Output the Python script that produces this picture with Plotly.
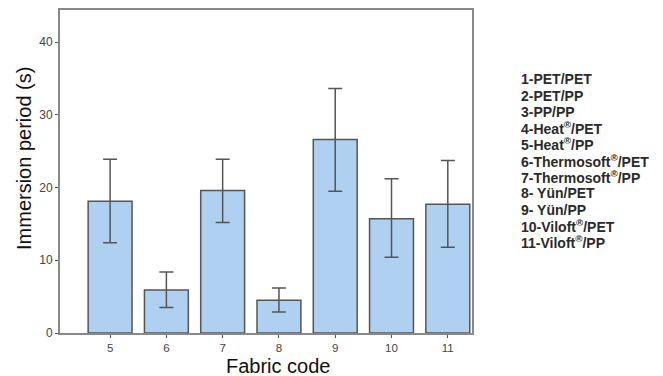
import plotly.graph_objects as go

codes = [5, 6, 7, 8, 9, 10, 11]
means = [18.1, 5.9, 19.6, 4.5, 26.6, 15.7, 17.7]
err_hi = [23.9, 8.4, 23.9, 6.2, 33.6, 21.2, 23.7]
err_lo = [12.4, 3.5, 15.2, 2.9, 19.5, 10.4, 11.8]
legend_lines = ["1-PET/PET", "2-PET/PP", "3-PP/PP", "4-Heat<sup>®</sup>/PET", "5-Heat<sup>®</sup>/PP",
                "6-Thermosoft<sup>®</sup>/PET", "7-Thermosoft<sup>®</sup>/PP", "8- Yün/PET", "9- Yün/PP",
                "10-Viloft<sup>®</sup>/PET", "11-Viloft<sup>®</sup>/PP"]

up = [h - m for h, m in zip(err_hi, means)]
down = [m - l for m, l in zip(means, err_lo)]

# plot area in viewport pixels (page has an 8px body margin)
PX0, PX1, PY0, PY1 = 60, 472, 10, 333
W, H = 663 - 8, 376 - 8

def px(x):
    return (x - PX0) / (PX1 - PX0)

def py(y):
    return 1 - (y - PY0) / (PY1 - PY0)

fig = go.Figure(go.Bar(
    x=codes, y=means, width=0.78,
    marker=dict(color="#AFD0F0", line=dict(color="#555555", width=1.5)),
    error_y=dict(type="data", symmetric=False, array=up, arrayminus=down,
                 color="#555555", thickness=1.5, width=7),
))

for i, t in enumerate(legend_lines):
    fig.add_annotation(xref="paper", yref="paper", x=px(519), y=py(79.3 + i * 16.3),
                       xanchor="left", yanchor="middle", text="<b>" + t + "</b>", showarrow=False,
                       font=dict(family="Liberation Sans, Arial", size=14, color="#2a2a2a"))

fig.add_annotation(xref="paper", yref="paper", x=px(278.7), y=py(366), xanchor="center", yanchor="middle",
                   text="Fabric code", showarrow=False, height=20, valign="middle",
                   font=dict(family="Liberation Sans, Arial", size=20, color="#111111"))
fig.add_annotation(xref="paper", yref="paper", x=px(24), y=py(159), xanchor="center", yanchor="middle",
                   text="Immersion period (s)", showarrow=False, textangle=-90,
                   font=dict(family="Liberation Sans, Arial", size=20, color="#111111"))

fig.update_layout(
    width=W, height=H,
    margin=dict(l=PX0 - 8, r=W - (PX1 - 8), t=PY0 - 8, b=H - (PY1 - 8)),
    paper_bgcolor="white", plot_bgcolor="white",
    showlegend=False,
    font=dict(family="Liberation Sans, Arial", color="#333333"),
    xaxis=dict(range=[4.11, 11.43], tickvals=codes, ticktext=[str(c) for c in codes],
               ticks="outside", ticklen=3, tickcolor="#555", showgrid=False, zeroline=False,
               showline=True, linecolor="#888888", linewidth=2, mirror=True, automargin=False,
               tickfont=dict(size=11.5, color="#444")),
    yaxis=dict(range=[0, 44.4], tickvals=[0, 10, 20, 30, 40],
               ticks="outside", ticklen=3, tickcolor="#555", showgrid=False, zeroline=False,
               showline=True, linecolor="#888888", linewidth=2, mirror=True, automargin=False,
               tickfont=dict(size=12, color="#444")),
)

fig.write_html("out.html")
